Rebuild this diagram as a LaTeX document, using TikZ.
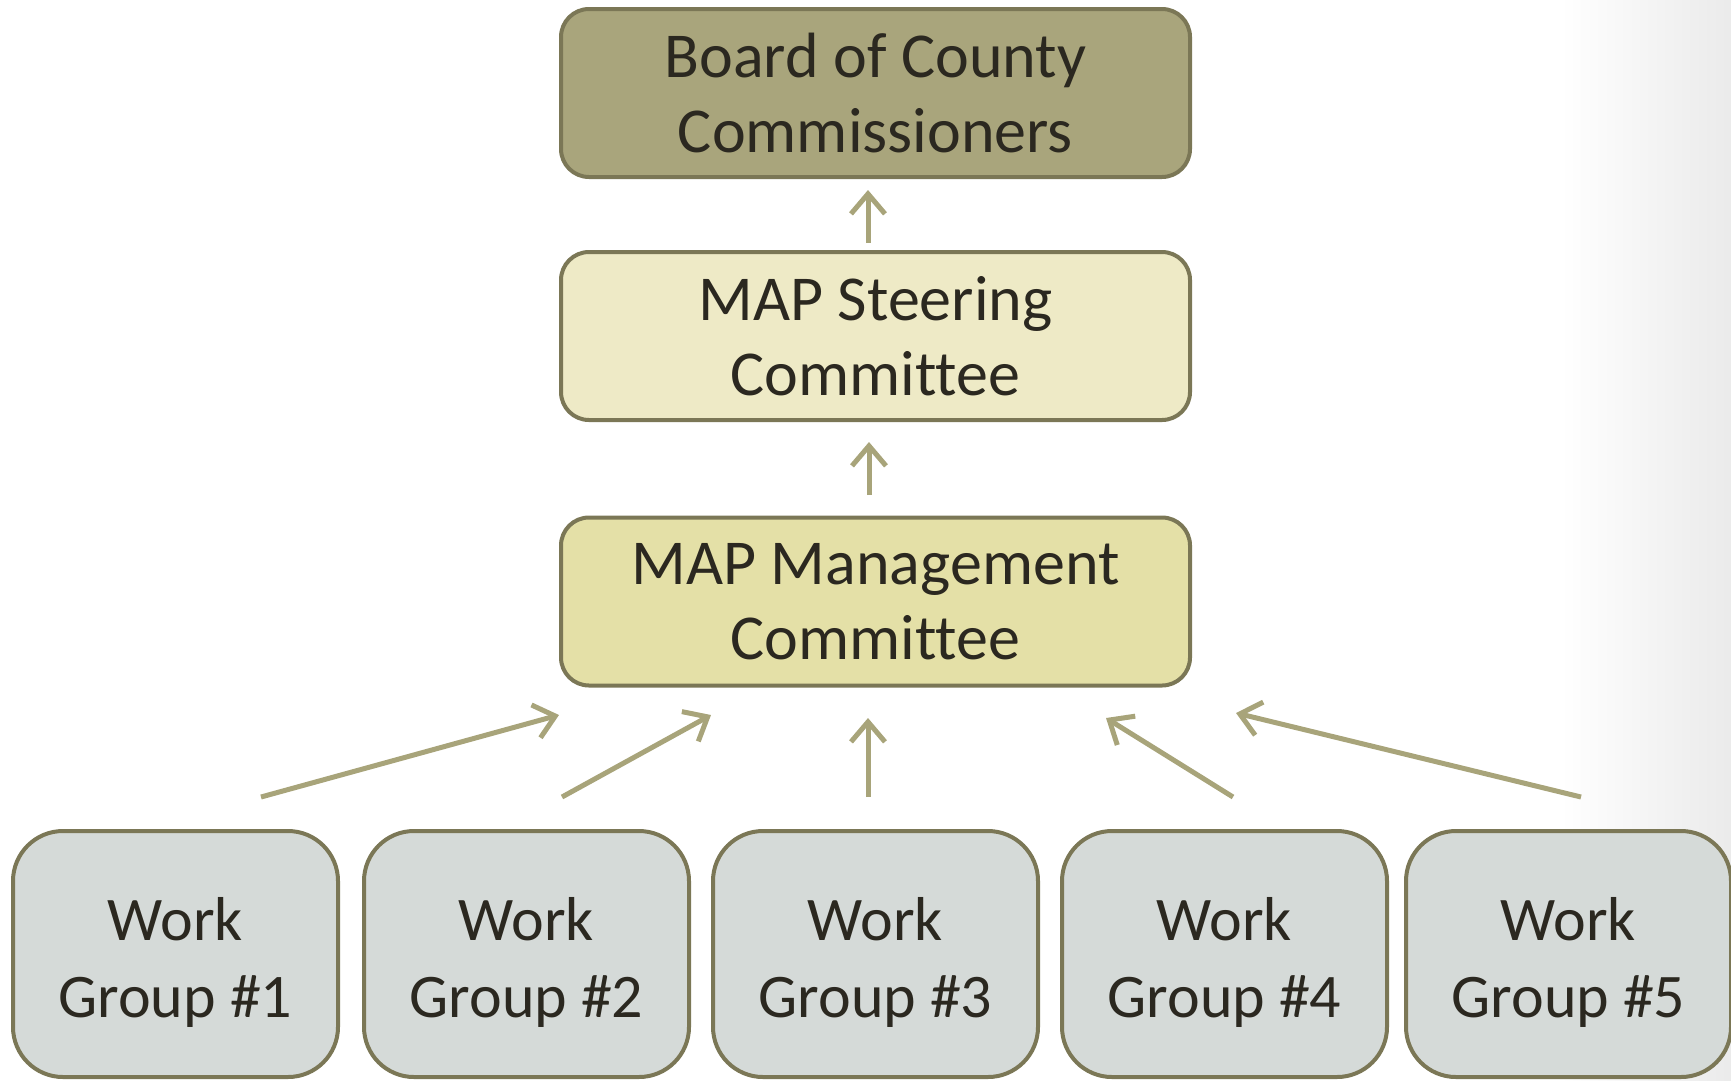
\documentclass[tikz,border=0pt]{standalone}
\usepackage{fontspec}
\setmainfont{Carlito}[Ligatures=NoCommon]
\usepackage{tikz}
\usetikzlibrary{arrows.meta}

\definecolor{boardfill}{HTML}{A9A57C}
\definecolor{steerfill}{HTML}{EEEAC6}
\definecolor{mgmtfill}{HTML}{E4E0A7}
\definecolor{groupfill}{HTML}{D5DAD8}
\definecolor{boxline}{HTML}{7B7756}
\definecolor{arrowcol}{HTML}{A8A47A}
\definecolor{textcol}{HTML}{2B2820}

\begin{document}
\begin{tikzpicture}[x=1pt, y=-1pt,
    wide/.style={draw=boxline, line width=4pt, rounded corners=28pt, minimum width=629pt, minimum height=168pt, align=center, text=textcol, font=\fontsize{64}{75}\selectfont},
    group/.style={draw=boxline, line width=4pt, fill=groupfill, rounded corners=50pt, minimum width=325pt, minimum height=246pt},
    grouptext/.style={align=center, text=textcol, font=\fontsize{62}{77}\selectfont},
    up/.style={-{Straight Barb[length=20pt, width=34pt, line width=5pt]}, line width=5pt, color=arrowcol}]

      \useasboundingbox (0,0) rectangle (1731,1080);
      \shade[left color=white, right color=black!8] (1560,0) rectangle (1731,1080);

      \node[wide, fill=boardfill] (board) at (875.5, 93) {Board of County\\Commissioners};
      \node[wide, fill=steerfill] (steer) at (875.5, 336) {MAP Steering\\Committee};
      \node[wide, fill=mgmtfill] (mgmt) at (875.5, 601.5) {MAP Management\\Committee};

      \node[group] (wg1) at (175.5, 954) {};
      \node[group] (wg2) at (526.5, 954) {};
      \node[group] (wg3) at (875.5, 954) {};
      \node[group] (wg4) at (1224.5, 954) {};
      \node[group] (wg5) at (1568.5, 954) {};

      \node[grouptext] (wg1 text) at ([yshift=-8pt]wg1.center) {Work\\Group \#1};
      \node[grouptext] (wg2 text) at ([yshift=-8pt]wg2.center) {Work\\Group \#2};
      \node[grouptext] (wg3 text) at ([yshift=-8pt]wg3.center) {Work\\Group \#3};
      \node[grouptext] (wg4 text) at ([yshift=-8pt]wg4.center) {Work\\Group \#4};
      \node[grouptext] (wg5 text) at ([yshift=-8pt]wg5.center) {Work\\Group \#5};

      % arrow ends
      \coordinate (steer top) at (868, 243);
      \coordinate (board low) at (868, 190);
      \coordinate (mgmt top) at (869, 495);
      \coordinate (steer low) at (869, 442);

      \coordinate (wg1 top) at (261, 797);
      \coordinate (wg2 top) at (562, 797);
      \coordinate (wg3 top) at (868, 797);
      \coordinate (wg4 top) at (1233, 797);
      \coordinate (wg5 top) at (1581, 797);

      \coordinate (mgmt in1) at (559, 715);
      \coordinate (mgmt in2) at (711, 715);
      \coordinate (mgmt in3) at (868, 718);
      \coordinate (mgmt in4) at (1106, 718);
      \coordinate (mgmt in5) at (1236, 713);

      \draw[up] (steer top) -- (board low);
      \draw[up] (mgmt top) -- (steer low);

      \draw[up] (wg1 top) -- (mgmt in1);
      \draw[up] (wg2 top) -- (mgmt in2);
      \draw[up] (wg3 top) -- (mgmt in3);
      \draw[up] (wg4 top) -- (mgmt in4);
      \draw[up] (wg5 top) -- (mgmt in5);

\end{tikzpicture}
\end{document}
